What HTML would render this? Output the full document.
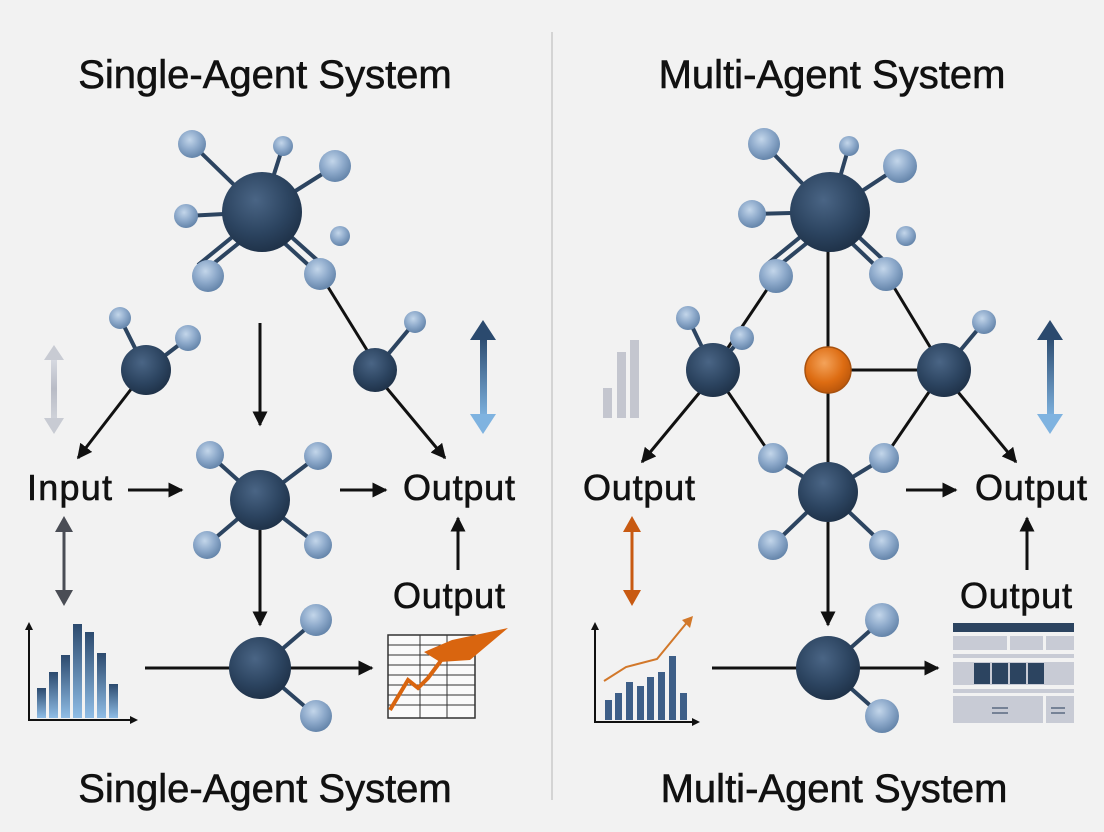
<!DOCTYPE html>
<html><head><meta charset="utf-8"><style>
html,body{margin:0;padding:0;background:#f2f2f2}
svg{display:block}
text{font-family:"Liberation Sans",sans-serif;fill:#111;stroke:#111;stroke-width:0.6}
</style></head><body>
<svg width="1104" height="832" viewBox="0 0 1104 832" xmlns="http://www.w3.org/2000/svg">
<defs>
<radialGradient id="dk" cx="0.42" cy="0.35" r="0.7"><stop offset="0" stop-color="#4a6585"/><stop offset="0.6" stop-color="#2c4460"/><stop offset="1" stop-color="#1d2f45"/></radialGradient>
<radialGradient id="lt" cx="0.42" cy="0.35" r="0.7"><stop offset="0" stop-color="#c3d6ea"/><stop offset="0.5" stop-color="#8eaacb"/><stop offset="1" stop-color="#5e7fa5"/></radialGradient>
<radialGradient id="or" cx="0.42" cy="0.35" r="0.7"><stop offset="0" stop-color="#f4a35a"/><stop offset="0.6" stop-color="#dd6c12"/><stop offset="1" stop-color="#b5530a"/></radialGradient>
<linearGradient id="bl" x1="0" y1="0" x2="0" y2="1"><stop offset="0" stop-color="#2b4a6e"/><stop offset="1" stop-color="#7fb3e0"/></linearGradient>
<linearGradient id="gr" x1="0" y1="0" x2="0" y2="1"><stop offset="0" stop-color="#d8dbe2"/><stop offset="0.5" stop-color="#b9bcc6"/><stop offset="1" stop-color="#d0d3da"/></linearGradient>
<linearGradient id="bar" x1="0" y1="0" x2="0" y2="1"><stop offset="0" stop-color="#2c4a6e"/><stop offset="1" stop-color="#8fbde6"/></linearGradient>
<marker id="ah" viewBox="0 0 10 10" refX="9" refY="5" markerWidth="5" markerHeight="5" orient="auto-start-reverse"><path d="M0,0L10,5L0,10z" fill="#111"/></marker>
</defs>

<line x1="552" y1="32" x2="552" y2="800" stroke="#d4d4d4" stroke-width="2"/>

<g font-size="40" text-anchor="middle">
<text x="265" y="88">Single-Agent System</text>
<text x="832" y="88">Multi-Agent System</text>
<text x="265" y="802">Single-Agent System</text>
<text x="834" y="802">Multi-Agent System</text>
</g>

<!-- LEFT -->
<g stroke="#2c4460" stroke-width="4">
<line x1="262" y1="212" x2="192" y2="144"/><line x1="262" y1="212" x2="283" y2="146"/><line x1="262" y1="212" x2="335" y2="166"/><line x1="262" y1="212" x2="186" y2="216"/>
<line x1="255" y1="230" x2="203" y2="272"/><line x1="247" y1="225" x2="198" y2="265"/>
<line x1="270" y1="230" x2="316" y2="272"/><line x1="278" y1="225" x2="325" y2="267"/>
<line x1="146" y1="370" x2="120" y2="318"/><line x1="146" y1="370" x2="188" y2="338"/>
<line x1="375" y1="370" x2="415" y2="322"/>
<line x1="260" y1="500" x2="210" y2="455"/><line x1="260" y1="500" x2="318" y2="456"/><line x1="260" y1="500" x2="207" y2="545"/><line x1="260" y1="500" x2="318" y2="545"/>
<line x1="260" y1="668" x2="316" y2="620"/><line x1="260" y1="668" x2="316" y2="716"/>
</g>
<g stroke="#111" stroke-width="3" fill="none">
<line x1="320" y1="274" x2="370" y2="355"/>
<line x1="385" y1="386" x2="445" y2="458" marker-end="url(#ah)"/>
<line x1="132" y1="388" x2="78" y2="458" marker-end="url(#ah)"/>
<line x1="260" y1="323" x2="260" y2="425" marker-end="url(#ah)"/>
<line x1="128" y1="490" x2="182" y2="490" marker-end="url(#ah)"/>
<line x1="340" y1="490" x2="386" y2="490" marker-end="url(#ah)"/>
<line x1="458" y1="570" x2="458" y2="518" marker-end="url(#ah)"/>
<line x1="260" y1="530" x2="260" y2="625" marker-end="url(#ah)"/>
<line x1="145" y1="668" x2="372" y2="668" marker-end="url(#ah)"/>
</g>
<line x1="64" y1="530" x2="64" y2="592" stroke="#4a4d55" stroke-width="3"/>
<path d="M64,516L55,532L73,532zM64,606L55,590L73,590z" fill="#4a4d55"/>
<rect x="51" y="358" width="6" height="62" fill="url(#gr)"/>
<path d="M54,345L44,360L64,360zM54,434L44,418L64,418z" fill="#c8cbd3"/>
<rect x="480" y="336" width="7" height="82" fill="url(#bl)"/>
<path d="M483,320L470,340L496,340z" fill="#2b4a6e"/><path d="M483,434L470,414L496,414z" fill="#7fb3e0"/>
<g fill="url(#dk)"><circle cx="262" cy="212" r="40"/><circle cx="375" cy="370" r="22"/><circle cx="146" cy="370" r="25"/><circle cx="260" cy="500" r="30"/><circle cx="260" cy="668" r="31"/></g>
<g fill="url(#lt)"><circle cx="192" cy="144" r="14"/><circle cx="283" cy="146" r="10"/><circle cx="335" cy="166" r="16"/><circle cx="186" cy="216" r="12"/><circle cx="340" cy="236" r="10"/><circle cx="208" cy="276" r="16"/><circle cx="320" cy="274" r="16"/><circle cx="415" cy="322" r="11"/><circle cx="120" cy="318" r="11"/><circle cx="188" cy="338" r="13"/><circle cx="210" cy="455" r="14"/><circle cx="318" cy="456" r="14"/><circle cx="207" cy="545" r="14"/><circle cx="318" cy="545" r="14"/><circle cx="316" cy="620" r="16"/><circle cx="316" cy="716" r="16"/></g>
<g font-size="36"><text x="27" y="500" textLength="85">Input</text><text x="403" y="500" textLength="112">Output</text><text x="393" y="608" textLength="112">Output</text></g>
<!-- chart left -->
<g stroke="#111" stroke-width="2" fill="none"><polyline points="29,625 29,720 135,720"/></g>
<path d="M29,622L25,630L33,630zM138,720L130,716L130,724z" fill="#111"/>
<g fill="url(#bar)"><rect x="37" y="688" width="9" height="30"/><rect x="49" y="672" width="9" height="46"/><rect x="61" y="655" width="9" height="63"/><rect x="73" y="624" width="9" height="94"/><rect x="85" y="632" width="9" height="86"/><rect x="97" y="653" width="9" height="65"/><rect x="109" y="684" width="9" height="34"/></g>
<!-- table left -->
<g stroke="#333" stroke-width="1.5" fill="#fafafa"><rect x="388" y="635" width="87" height="83"/></g>
<g stroke="#333" stroke-width="1"><line x1="388" y1="645" x2="475" y2="645"/><line x1="388" y1="655" x2="475" y2="655"/><line x1="388" y1="665" x2="475" y2="665"/><line x1="388" y1="675" x2="475" y2="675"/><line x1="388" y1="685" x2="475" y2="685"/><line x1="388" y1="695" x2="475" y2="695"/><line x1="388" y1="705" x2="475" y2="705"/><line x1="420" y1="635" x2="420" y2="718"/><line x1="447" y1="635" x2="447" y2="718"/></g>
<path d="M424,652L452,640L508,628L470,660L440,662z" fill="#d9650f"/>
<polyline points="390,710 408,680 418,688 428,678 440,662 448,648" stroke="#d9650f" stroke-width="4" fill="none"/>

<!-- RIGHT -->
<g stroke="#2c4460" stroke-width="4">
<line x1="830" y1="212" x2="764" y2="144"/><line x1="830" y1="212" x2="849" y2="146"/><line x1="830" y1="212" x2="900" y2="166"/><line x1="830" y1="212" x2="752" y2="214"/>
<line x1="823" y1="230" x2="771" y2="272"/><line x1="815" y1="225" x2="766" y2="265"/>
<line x1="838" y1="230" x2="882" y2="272"/><line x1="846" y1="225" x2="891" y2="267"/>
<line x1="713" y1="370" x2="688" y2="318"/><line x1="713" y1="370" x2="742" y2="338"/>
<line x1="944" y1="370" x2="984" y2="322"/>
<line x1="828" y1="492" x2="773" y2="458"/><line x1="828" y1="492" x2="884" y2="458"/><line x1="828" y1="492" x2="773" y2="545"/><line x1="828" y1="492" x2="884" y2="545"/>
<line x1="828" y1="668" x2="882" y2="620"/><line x1="828" y1="668" x2="882" y2="716"/>
</g>
<g stroke="#111" stroke-width="3" fill="none">
<line x1="828" y1="212" x2="828" y2="492"/>
<line x1="828" y1="370" x2="944" y2="370"/>
<line x1="776" y1="276" x2="713" y2="370"/>
<line x1="886" y1="274" x2="944" y2="370"/>
<line x1="713" y1="370" x2="773" y2="458"/>
<line x1="944" y1="370" x2="884" y2="458"/>
<line x1="700" y1="392" x2="642" y2="462" marker-end="url(#ah)"/>
<line x1="958" y1="392" x2="1016" y2="462" marker-end="url(#ah)"/>
<line x1="906" y1="490" x2="956" y2="490" marker-end="url(#ah)"/>
<line x1="1027" y1="570" x2="1027" y2="518" marker-end="url(#ah)"/>
<line x1="828" y1="522" x2="828" y2="625" marker-end="url(#ah)"/>
<line x1="712" y1="668" x2="938" y2="668" marker-end="url(#ah)"/>
</g>
<line x1="632" y1="530" x2="632" y2="592" stroke="#c85a12" stroke-width="3"/>
<path d="M632,516L623,532L641,532zM632,606L623,590L641,590z" fill="#c85a12"/>
<g fill="#c4c6cf"><rect x="603" y="388" width="9" height="30"/><rect x="617" y="352" width="9" height="66"/><rect x="630" y="340" width="9" height="78"/></g>
<rect x="1047" y="336" width="7" height="82" fill="url(#bl)"/>
<path d="M1050,320L1037,340L1063,340z" fill="#2b4a6e"/><path d="M1050,434L1037,414L1063,414z" fill="#7fb3e0"/>
<g fill="url(#dk)"><circle cx="830" cy="212" r="40"/><circle cx="713" cy="370" r="27"/><circle cx="944" cy="370" r="27"/><circle cx="828" cy="492" r="30"/><circle cx="828" cy="668" r="32"/></g>
<circle cx="828" cy="370" r="23" fill="url(#or)" stroke="#a9520f" stroke-width="1.5"/>
<g fill="url(#lt)"><circle cx="764" cy="144" r="16"/><circle cx="849" cy="146" r="10"/><circle cx="900" cy="166" r="17"/><circle cx="752" cy="214" r="14"/><circle cx="906" cy="236" r="10"/><circle cx="776" cy="276" r="17"/><circle cx="886" cy="274" r="17"/><circle cx="984" cy="322" r="12"/><circle cx="688" cy="318" r="12"/><circle cx="742" cy="338" r="12"/><circle cx="773" cy="458" r="15"/><circle cx="884" cy="458" r="15"/><circle cx="773" cy="545" r="15"/><circle cx="884" cy="545" r="15"/><circle cx="882" cy="620" r="17"/><circle cx="882" cy="716" r="17"/></g>
<g font-size="36"><text x="583" y="500" textLength="112">Output</text><text x="975" y="500" textLength="112">Output</text><text x="960" y="608" textLength="112">Output</text></g>
<!-- chart right -->
<g stroke="#111" stroke-width="2" fill="none"><polyline points="595,625 595,722 697,722"/></g>
<path d="M595,622L591,630L599,630zM700,722L692,718L692,726z" fill="#111"/>
<g fill="#3e5f88"><rect x="605" y="700" width="7" height="20"/><rect x="615" y="693" width="7" height="27"/><rect x="626" y="682" width="7" height="38"/><rect x="637" y="686" width="7" height="34"/><rect x="647" y="677" width="7" height="43"/><rect x="658" y="672" width="7" height="48"/><rect x="669" y="656" width="7" height="64"/><rect x="680" y="693" width="7" height="27"/></g>
<polyline points="604,681 626,667 657,659 689,620" stroke="#d2782a" stroke-width="2" fill="none"/>
<path d="M693,616L682,620L690,628z" fill="#d2782a"/>
<!-- table right -->
<rect x="953" y="623" width="121" height="9" fill="#2c4460"/>
<g fill="#c8cbd5"><rect x="953" y="636" width="54" height="14"/><rect x="1010" y="636" width="33" height="14"/><rect x="1046" y="636" width="28" height="14"/><rect x="953" y="654" width="121" height="4"/><rect x="953" y="662" width="121" height="23"/><rect x="953" y="689" width="121" height="4"/><rect x="953" y="696" width="90" height="27"/><rect x="1046" y="696" width="28" height="27"/></g>
<g fill="#2c4460"><rect x="974" y="663" width="16" height="21"/><rect x="992" y="663" width="16" height="21"/><rect x="1010" y="663" width="16" height="21"/><rect x="1028" y="663" width="16" height="21"/></g>
<g stroke="#5a6a80" stroke-width="1.5"><line x1="992" y1="708" x2="1008" y2="708"/><line x1="992" y1="713" x2="1008" y2="713"/><line x1="1051" y1="708" x2="1065" y2="708"/><line x1="1051" y1="713" x2="1065" y2="713"/></g>
</svg>
</body></html>
